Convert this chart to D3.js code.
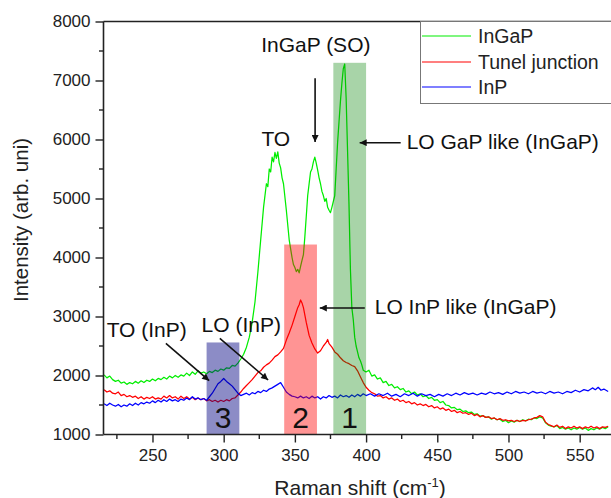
<!DOCTYPE html>
<html>
<head>
<meta charset="utf-8">
<script src="https://cdn.jsdelivr.net/npm/d3@7"></script>
<style>
  html, body { margin: 0; padding: 0; background: #fff; }
  svg { display: block; font-family: "Liberation Sans", Arial, sans-serif; }
</style>
</head>
<body>
<svg id="chart" width="611" height="498"></svg>
<script>
// ---------------- DATA ----------------
const xTicks = [250, 300, 350, 400, 450, 500, 550];
const yTicks = [1000, 2000, 3000, 4000, 5000, 6000, 7000, 8000];
const seriesNames = ["InGaP", "Tunel junction", "InP"];
const seriesColors = ["#00ee00", "#ff0000", "#0000ff"];

const ingap = [
[216,2010],[218,1960],[220,1990],[222,1930],[224,1900],[226,1920],[228,1870],[230,1890],[232,1850],[234,1880],
[236,1860],[238,1900],[240,1870],[242,1910],[244,1880],[246,1920],[248,1900],[250,1940],[252,1910],[254,1950],
[256,1930],[258,1970],[260,1940],[262,1990],[264,1960],[266,2000],[268,1970],[270,2010],[272,1990],[274,2040],
[276,2000],[278,2060],[280,2020],[282,2080],[284,2040],[286,2060],[288,2030],[290,2070],[292,2050],[294,2090],
[296,2070],[298,2110],[300,2090],[302,2130],[304,2120],[306,2170],[308,2160],[310,2210],[312,2280],[314,2360],
[316,2480],[318,2650],[320,2900],[322,3250],[324,3750],[326,4300],[328,4850],[330,5250],[331,5200],[332,5500],
[333,5450],[334,5700],[335,5620],[336,5780],[337,5680],[338,5790],[339,5600],[340,5520],[341,5350],[342,5250],
[344,4800],[346,4300],[348,4000],[349,3880],[350,3830],[351,3760],[352,3800],[353,3740],[354,3850],[355,3950],
[356,4050],[357,4350],[358,4700],[359,5050],[360,5250],[361,5450],[362,5500],[363,5620],[364,5700],[365,5600],
[366,5480],[367,5350],[368,5250],[369,5120],[370,5050],[371,4950],[372,5000],[373,4850],[374,4800],[375,4760],
[376,4850],[377,4950],[378,5050],[379,5500],[380,5950],[381,6300],[382,6650],[383,6950],[384,7200],[385,7280],
[386,6700],[387,5800],[388,4900],[389,3800],[390,3150],[391,2950],[392,2650],[393,2500],[394,2400],[395,2300],
[396,2250],[397,2180],[398,2090],[400,2060],[402,2090],[404,1990],[406,2010],[408,1940],[410,1960],[412,1880],
[414,1900],[416,1830],[418,1850],[420,1790],[422,1810],[424,1760],[426,1780],[428,1720],[430,1740],[432,1690],
[434,1720],[436,1670],[438,1690],[440,1640],[442,1660],[444,1610],[446,1630],[448,1580],[450,1590],[452,1540],
[454,1560],[456,1500],[458,1490],[460,1450],[462,1460],[464,1420],[466,1430],[468,1390],[470,1400],[472,1370],
[474,1380],[476,1340],[478,1350],[480,1310],[482,1320],[484,1290],[486,1300],[488,1260],[490,1280],[492,1250],
[494,1260],[496,1220],[498,1240],[500,1200],[502,1230],[504,1210],[506,1240],[508,1220],[510,1250],[512,1230],
[514,1260],[516,1250],[518,1280],[520,1270],[522,1300],[524,1280],[526,1200],[528,1160],[530,1140],[532,1130],
[534,1150],[536,1100],[538,1120],[540,1090],[542,1110],[544,1080],[546,1110],[548,1090],[550,1120],[552,1090],
[554,1110],[556,1070],[558,1100],[560,1080],[562,1110],[564,1090],[566,1120],[568,1100],[570,1130]
];

const tunnel = [
[216,1760],[218,1720],[220,1740],[222,1700],[224,1690],[226,1720],[228,1660],[230,1680],[232,1640],[234,1660],
[236,1630],[238,1650],[240,1610],[242,1640],[244,1600],[246,1630],[248,1610],[250,1640],[252,1600],[254,1620],
[256,1600],[258,1650],[260,1620],[262,1660],[264,1620],[266,1640],[268,1600],[270,1650],[272,1610],[274,1640],
[276,1600],[278,1630],[280,1590],[282,1620],[284,1590],[286,1610],[288,1570],[290,1590],[292,1560],[294,1580],
[296,1550],[298,1580],[300,1560],[302,1590],[304,1570],[306,1610],[308,1620],[310,1670],[312,1720],[314,1780],
[316,1830],[318,1880],[320,1930],[322,1990],[324,2050],[326,2080],[328,2140],[330,2180],[332,2210],[334,2260],
[336,2320],[338,2350],[340,2400],[342,2460],[344,2600],[346,2720],[348,2850],[350,3000],[352,3150],[353,3200],
[354,3280],[355,3230],[356,3150],[358,2900],[360,2680],[362,2550],[364,2450],[366,2380],[368,2420],[370,2500],
[372,2560],[373,2610],[374,2540],[376,2480],[378,2400],[380,2360],[382,2300],[384,2250],[386,2220],[388,2200],
[390,2170],[392,2150],[394,2080],[396,1980],[398,1880],[400,1800],[402,1750],[404,1710],[406,1690],[408,1650],
[410,1660],[412,1620],[414,1640],[416,1600],[418,1620],[420,1580],[422,1600],[424,1560],[426,1580],[428,1540],
[430,1560],[432,1520],[434,1540],[436,1500],[438,1520],[440,1490],[442,1510],[444,1470],[446,1490],[448,1450],
[450,1470],[452,1430],[454,1450],[456,1410],[458,1430],[460,1390],[462,1410],[464,1370],[466,1390],[468,1360],
[470,1370],[472,1340],[474,1360],[476,1320],[478,1340],[480,1300],[482,1320],[484,1290],[486,1300],[488,1270],
[490,1280],[492,1250],[494,1270],[496,1240],[498,1250],[500,1230],[502,1240],[504,1220],[506,1240],[508,1220],
[510,1240],[512,1230],[514,1250],[516,1260],[518,1280],[520,1290],[522,1320],[524,1300],[526,1210],[528,1170],
[530,1150],[532,1130],[534,1160],[536,1120],[538,1140],[540,1100],[542,1130],[544,1110],[546,1140],[548,1110],
[550,1130],[552,1100],[554,1130],[556,1110],[558,1140],[560,1110],[562,1130],[564,1100],[566,1130],[568,1120],
[570,1140]
];

const inp = [
[216,1520],[218,1490],[220,1530],[222,1500],[224,1480],[226,1510],[228,1470],[230,1500],[232,1480],[234,1520],
[236,1490],[238,1530],[240,1500],[242,1540],[244,1520],[246,1550],[248,1530],[250,1570],[252,1540],[254,1580],
[256,1550],[258,1590],[260,1560],[262,1600],[264,1570],[266,1590],[268,1560],[270,1600],[272,1580],[274,1620],
[276,1590],[278,1640],[280,1600],[282,1620],[284,1590],[286,1610],[288,1580],[290,1640],[292,1700],[294,1780],
[296,1860],[298,1900],[300,1950],[302,1900],[304,1860],[306,1820],[308,1760],[310,1700],[312,1660],[314,1680],
[316,1700],[318,1670],[320,1710],[322,1690],[324,1730],[326,1710],[328,1750],[330,1730],[332,1770],[334,1790],
[336,1820],[338,1850],[340,1880],[342,1800],[344,1720],[346,1680],[348,1650],[350,1640],[352,1620],[354,1650],
[356,1620],[358,1640],[360,1610],[362,1650],[364,1620],[366,1640],[368,1600],[370,1640],[372,1620],[374,1660],
[376,1630],[378,1650],[380,1620],[382,1670],[384,1640],[386,1660],[388,1630],[390,1670],[392,1640],[394,1680],
[396,1650],[398,1690],[400,1660],[403,1690],[406,1650],[409,1690],[412,1660],[415,1700],[418,1650],[421,1680],
[424,1640],[427,1690],[430,1660],[433,1700],[436,1650],[439,1690],[442,1660],[445,1680],[448,1640],[451,1680],
[454,1650],[457,1690],[460,1660],[463,1700],[466,1670],[469,1710],[472,1680],[475,1700],[478,1670],[481,1700],
[484,1680],[487,1720],[490,1690],[493,1710],[496,1680],[499,1720],[502,1690],[505,1730],[508,1700],[511,1720],
[514,1690],[517,1730],[520,1700],[523,1720],[526,1690],[529,1730],[532,1700],[535,1720],[538,1690],[541,1730],
[544,1710],[547,1750],[550,1720],[553,1760],[556,1740],[559,1790],[561,1760],[563,1800],[565,1750],[567,1770],
[570,1730]
];

// shaded bands
const bandX0 = [288, 342.5, 377];
const bandX1 = [311, 365.5, 400];
const bandTop = [2560, 4220, 7300];
const bandLabels = ["3", "2", "1"];
const bandColors = ["#000080", "#ff0000", "#008000"];
const bandOpacity = [0.45, 0.42, 0.34];

// annotations (data units)
const annTexts = ["InGaP (SO)", "TO", "LO GaP like (InGaP)", "LO InP like (InGaP)", "TO (InP)", "LO (InP)"];
const annPos = [[364.7, 7480], [336.6, 5890], [428.5, 5834], [406.1, 3042], [217.8, 2658], [284.5, 2742]];
const annAnchor = ["middle", "middle", "start", "start", "start", "start"];
const arrowFrom = [[364.2, 7040], [424.3, 5946], [399.1, 3144], [259.4, 2546], [297.3, 2631]];
const arrowTo = [[364.2, 5958], [395.5, 5946], [367.5, 3144], [289.8, 1912], [331.2, 1924]];

// ---------------- CHART ----------------
const svg = d3.select("#chart");
const x = d3.scaleLinear().domain([215.6, 572]).range([103.5, 611]);
const y = d3.scaleLinear().domain([1000, 8000]).range([434.5, 21.5]);

svg.append("defs").append("marker")
  .attr("id", "ah").attr("viewBox", "0 0 10 10").attr("refX", 10).attr("refY", 5)
  .attr("markerWidth", 10).attr("markerHeight", 7).attr("markerUnits", "userSpaceOnUse")
  .attr("orient", "auto")
  .append("path").attr("d", "M0,0 L10,5 L0,10 Z").attr("fill", "#111");

// curves
const line = d3.line().x(d => x(d[0])).y(d => y(d[1]));
const allSeries = [ingap, tunnel, inp];
allSeries.forEach((s, i) => {
  svg.append("path").datum(s).attr("d", line)
    .attr("fill", "none").attr("stroke", seriesColors[i]).attr("stroke-width", 1.25)
    .attr("stroke-linejoin", "round");
});

// bands (on top, semi transparent)
bandX0.forEach((b, i) => {
  svg.append("rect")
    .attr("x", x(bandX0[i])).attr("width", x(bandX1[i]) - x(bandX0[i]))
    .attr("y", y(bandTop[i])).attr("height", y(1000) - y(bandTop[i]))
    .attr("fill", bandColors[i]).attr("fill-opacity", bandOpacity[i]);
  svg.append("text")
    .attr("x", x((bandX0[i] + bandX1[i]) / 2)).attr("y", 428)
    .attr("text-anchor", "middle").attr("font-size", 30).attr("fill", "#111")
    .text(bandLabels[i]);
});

// axes
const xAxis = d3.axisBottom(x).tickValues(xTicks).tickSize(8).tickPadding(6).tickFormat(d3.format("d"));
const gx = svg.append("g").attr("transform", "translate(0,434.5)").call(xAxis);
const yAxis = d3.axisLeft(y).tickValues(yTicks).tickSize(8).tickPadding(5).tickFormat(d3.format("d"));
const gy = svg.append("g").attr("transform", "translate(103.5,0)").call(yAxis);
[gx, gy].forEach(g => {
  g.select(".domain").attr("stroke", "#222").attr("stroke-width", 1.6);
  g.selectAll(".tick line").attr("stroke", "#222").attr("stroke-width", 1.4);
  g.selectAll(".tick text").attr("font-size", 17).attr("fill", "#222")
    .attr("font-family", "Liberation Sans, Arial, sans-serif");
});
gx.select(".domain").attr("d", `M${x.range()[0]},0H${x.range()[1]}`);
gy.select(".domain").attr("d", `M0,${y.range()[0]}V${y.range()[1]}`);

// minor ticks
const xMinor = [225, 275, 325, 375, 425, 475, 525];
const yMinor = [1500, 2500, 3500, 4500, 5500, 6500, 7500];
svg.append("g").selectAll("line").data(xMinor).join("line")
  .attr("x1", d => x(d)).attr("x2", d => x(d)).attr("y1", 434.5).attr("y2", 439)
  .attr("stroke", "#222").attr("stroke-width", 1.4);
svg.append("g").selectAll("line").data(yMinor).join("line")
  .attr("y1", d => y(d)).attr("y2", d => y(d)).attr("x1", 103.5).attr("x2", 99)
  .attr("stroke", "#222").attr("stroke-width", 1.4);

// top frame
svg.append("line").attr("x1", 103.5).attr("x2", 611).attr("y1", 21.5).attr("y2", 21.5)
  .attr("stroke", "#222").attr("stroke-width", 1.6);

// axis titles
const xt = svg.append("text").attr("x", 360).attr("y", 495).attr("text-anchor", "middle")
  .attr("font-size", 21).attr("fill", "#222");
xt.append("tspan").text("Raman shift (cm");
xt.append("tspan").attr("dy", -8).attr("font-size", 13).text("-1");
xt.append("tspan").attr("dy", 8).text(")");

svg.append("text").attr("transform", "translate(28,220) rotate(-90)")
  .attr("text-anchor", "middle").attr("font-size", 20.5).attr("fill", "#222")
  .text("Intensity (arb. uni)");

// annotations
annTexts.forEach((t, i) => {
  svg.append("text").attr("x", x(annPos[i][0])).attr("y", y(annPos[i][1]))
    .attr("text-anchor", annAnchor[i]).attr("font-size", 21).attr("fill", "#111").text(t);
});
arrowFrom.forEach((f, i) => {
  svg.append("line")
    .attr("x1", x(f[0])).attr("y1", y(f[1]))
    .attr("x2", x(arrowTo[i][0])).attr("y2", y(arrowTo[i][1]))
    .attr("stroke", "#111").attr("stroke-width", 1.6).attr("marker-end", "url(#ah)");
});

// legend
const lg = svg.append("g");
lg.append("rect").attr("x", 420.5).attr("y", 21.5).attr("width", 200).attr("height", 82)
  .attr("fill", "#fff").attr("stroke", "#777").attr("stroke-width", 1);
const legendY = [36, 62, 87];
seriesNames.forEach((n, i) => {
  lg.append("line").attr("x1", 422).attr("x2", 471).attr("y1", legendY[i]).attr("y2", legendY[i])
    .attr("stroke", seriesColors[i]).attr("stroke-width", 1.2);
  lg.append("text").attr("x", 478).attr("y", legendY[i] + 6.5).attr("font-size", 19.5)
    .attr("fill", "#222").text(n);
});
</script>
</body>
</html>
